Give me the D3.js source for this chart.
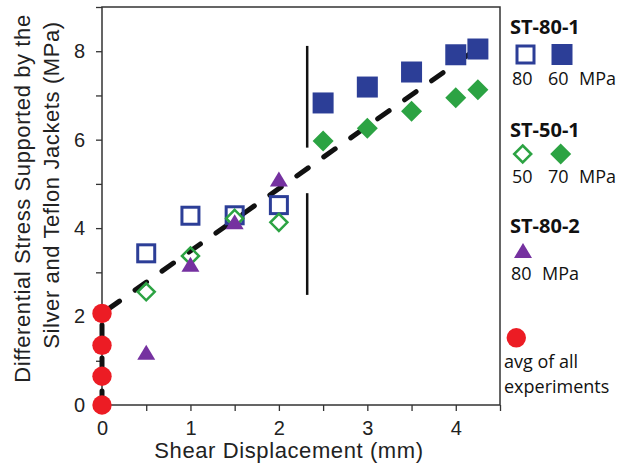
<!DOCTYPE html>
<html>
<head>
<meta charset="utf-8">
<script src="https://cdn.jsdelivr.net/npm/d3@7"></script>
<style>
  body { margin: 0; background: #fff; }
  .tick text { font-family: "Liberation Sans", Arial, sans-serif; font-size: 20px; fill: #222; }
  .tick line { stroke: #333; stroke-width: 1.3; }
  .axis-title { font-family: "Liberation Sans", Arial, sans-serif; font-size: 22px; letter-spacing: 0.6px; fill: #222; }
  .leg { font-family: "Open Sans", "Noto Sans", sans-serif; font-size: 18px; fill: #111; }
  .leg-title { font-family: "Open Sans", "Noto Sans", sans-serif; font-size: 20px; font-weight: bold; fill: #111; }
</style>
</head>
<body>
<svg id="chart"></svg>
<script>
// displacement (mm)
const xEarly = [0.5, 1, 1.5, 2];
const xLate = [2.5, 3, 3.5, 4, 4.25];
const xAvg = [0, 0, 0, 0];

// differential stress (MPa)
const st801Open = [3.43, 4.28, 4.29, 4.52];     // ST-80-1, 80 MPa
const st801Filled = [6.83, 7.19, 7.53, 7.92, 8.05]; // ST-80-1, 60 MPa
const st501Open = [2.56, 3.37, 4.22, 4.13];     // ST-50-1, 50 MPa
const st501Filled = [5.97, 6.26, 6.64, 6.95, 7.13]; // ST-50-1, 70 MPa
const st802 = [1.18, 3.17, 4.13, 5.1];          // ST-80-2, 80 MPa
const avgAll = [0, 0.65, 1.35, 2.07];           // avg of all experiments

// dashed trend and the two vertical marker segments
const trendX = [0, 0, 4.15];
const trendY = [0, 2.07, 7.93];
const sepX = 2.32;
const sepSegments = [[8.12, 5.82], [4.79, 2.49]];

const xTicks = [0, 0.5, 1, 1.5, 2, 2.5, 3, 3.5, 4, 4.5];
const yTicks = [0, 1, 2, 3, 4, 5, 6, 7, 8, 9];

const blue = '#2c3e97', green = '#2ca343', purple = '#7531a0', red = '#ec1c24';

const W = 617, H = 464;
const plot = {left: 102, right: 500, top: 7, bottom: 405};

const svg = d3.select('#chart').attr('width', W).attr('height', H);

const x = d3.scaleLinear().domain([0, 4.5]).range([plot.left, plot.right]);
const y = d3.scaleLinear().domain([0, 9]).range([plot.bottom, plot.top]);

// axes
svg.append('g')
    .attr('transform', `translate(0,${plot.bottom})`)
    .call(d3.axisBottom(x).tickValues(xTicks).tickSize(6).tickPadding(10)
      .tickFormat(d => Number.isInteger(d) ? d : ''))
    .call(g => g.select('.domain').remove());

svg.append('g')
    .attr('transform', `translate(${plot.left},0)`)
    .call(d3.axisLeft(y).tickValues(yTicks).tickSize(6).tickPadding(11)
      .tickFormat(d => (d % 2 === 0 && d < 9) ? d : ''))
    .call(g => g.select('.domain').remove());

// frame
svg.append('rect')
    .attr('x', plot.left).attr('y', plot.top)
    .attr('width', plot.right - plot.left).attr('height', plot.bottom - plot.top)
    .attr('fill', 'none').attr('stroke', '#333').attr('stroke-width', 1.5);

// axis titles
svg.append('text')
    .attr('class', 'axis-title')
    .attr('x', 289).attr('y', 458)
    .attr('text-anchor', 'middle')
    .text('Shear Displacement (mm)');

svg.append('text')
    .attr('class', 'axis-title')
    .attr('transform', 'translate(29.5,198.5) rotate(-90)')
    .attr('text-anchor', 'middle')
    .text('Differential Stress Supported by the');

svg.append('text')
    .attr('class', 'axis-title')
    .attr('transform', 'translate(58.5,185) rotate(-90)')
    .attr('text-anchor', 'middle')
    .text('Silver and Teflon Jackets (MPa)');

// dashed trend line
const line = d3.line().x(d => x(d[0])).y(d => y(d[1]));
svg.append('path')
    .datum(trendX.map((v, i) => [v, trendY[i]]))
    .attr('d', line)
    .attr('fill', 'none')
    .attr('stroke', '#111')
    .attr('stroke-width', 5)
    .attr('stroke-linecap', 'round')
    .attr('stroke-dasharray', '14 19');

// vertical separators
svg.selectAll('.sep')
    .data(sepSegments)
  .join('line')
    .attr('class', 'sep')
    .attr('x1', x(sepX)).attr('x2', x(sepX))
    .attr('y1', d => y(d[0])).attr('y2', d => y(d[1]))
    .attr('stroke', '#111').attr('stroke-width', 2.5);

const sym = (type, size) => d3.symbol().type(type).size(size);
const diamond = {
  draw(ctx, s) {
    const r = Math.sqrt(s) / 2;
    ctx.moveTo(0, -r); ctx.lineTo(r, 0); ctx.lineTo(0, r); ctx.lineTo(-r, 0); ctx.closePath();
  }
};

function drawSquares(g, xs, ys, side, open) {
  g.selectAll(null)
      .data(xs.map((v, i) => [v, ys[i]]))
    .join('rect')
      .attr('x', d => x(d[0]) - side / 2)
      .attr('y', d => y(d[1]) - side / 2)
      .attr('width', side).attr('height', side)
      .attr('fill', open ? 'none' : blue)
      .attr('stroke', open ? blue : 'none')
      .attr('stroke-width', 3);
}

function drawSymbols(g, xs, ys, type, size, color, open) {
  g.selectAll(null)
      .data(xs.map((v, i) => [v, ys[i]]))
    .join('path')
      .attr('transform', d => `translate(${x(d[0])},${y(d[1])})`)
      .attr('d', sym(type, size))
      .attr('fill', open ? 'none' : color)
      .attr('stroke', open ? color : 'none')
      .attr('stroke-width', 2.5);
}

const marks = svg.append('g');
drawSquares(marks, xEarly, st801Open, 17, true);
drawSquares(marks, xLate, st801Filled, 21, false);
drawSymbols(marks, xEarly, st501Open, diamond, 17 * 17, green, true);
drawSymbols(marks, xLate, st501Filled, diamond, 21 * 21, green, false);

const tri = {
  draw(ctx, s) {
    ctx.moveTo(0, -8); ctx.lineTo(9, 7); ctx.lineTo(-9, 7); ctx.closePath();
  }
};
drawSymbols(marks, xEarly, st802, tri, 1, purple, false);

marks.selectAll('.avg')
    .data(xAvg.map((v, i) => [v, avgAll[i]]))
  .join('circle')
    .attr('class', 'avg')
    .attr('cx', d => x(d[0])).attr('cy', d => y(d[1]))
    .attr('r', 9.7)
    .attr('fill', red);

// legend
const leg = svg.append('g');
const legText = (cls, tx, ty, s) => leg.append('text').attr('class', cls).attr('x', tx).attr('y', ty).text(s);

legText('leg-title', 510, 34, 'ST-80-1');
leg.append('rect').attr('x', 517).attr('y', 46).attr('width', 17).attr('height', 17)
    .attr('fill', 'none').attr('stroke', blue).attr('stroke-width', 3);
leg.append('rect').attr('x', 551.5).attr('y', 44).attr('width', 21).attr('height', 21)
    .attr('fill', blue);
legText('leg', 512, 85, '80');
legText('leg', 548, 85, '60');
legText('leg', 579, 85, 'MPa');

legText('leg-title', 510, 136.5, 'ST-50-1');
leg.append('path').attr('transform', 'translate(522.7,154)').attr('d', sym(diamond, 17 * 17))
    .attr('fill', 'none').attr('stroke', green).attr('stroke-width', 2.5);
leg.append('path').attr('transform', 'translate(560.7,154)').attr('d', sym(diamond, 21 * 21))
    .attr('fill', green);
legText('leg', 512, 183, '50');
legText('leg', 548, 183, '70');
legText('leg', 579, 183, 'MPa');

legText('leg-title', 510, 233, 'ST-80-2');
leg.append('path').attr('transform', 'translate(523,251)').attr('d', sym(tri, 1))
    .attr('fill', purple);
legText('leg', 511, 280, '80');
legText('leg', 542, 280, 'MPa');

leg.append('circle').attr('cx', 516.3).attr('cy', 337.8).attr('r', 9.7).attr('fill', red);
legText('leg', 504, 368, 'avg of all');
legText('leg', 504, 393, 'experiments');
</script>
</body>
</html>
